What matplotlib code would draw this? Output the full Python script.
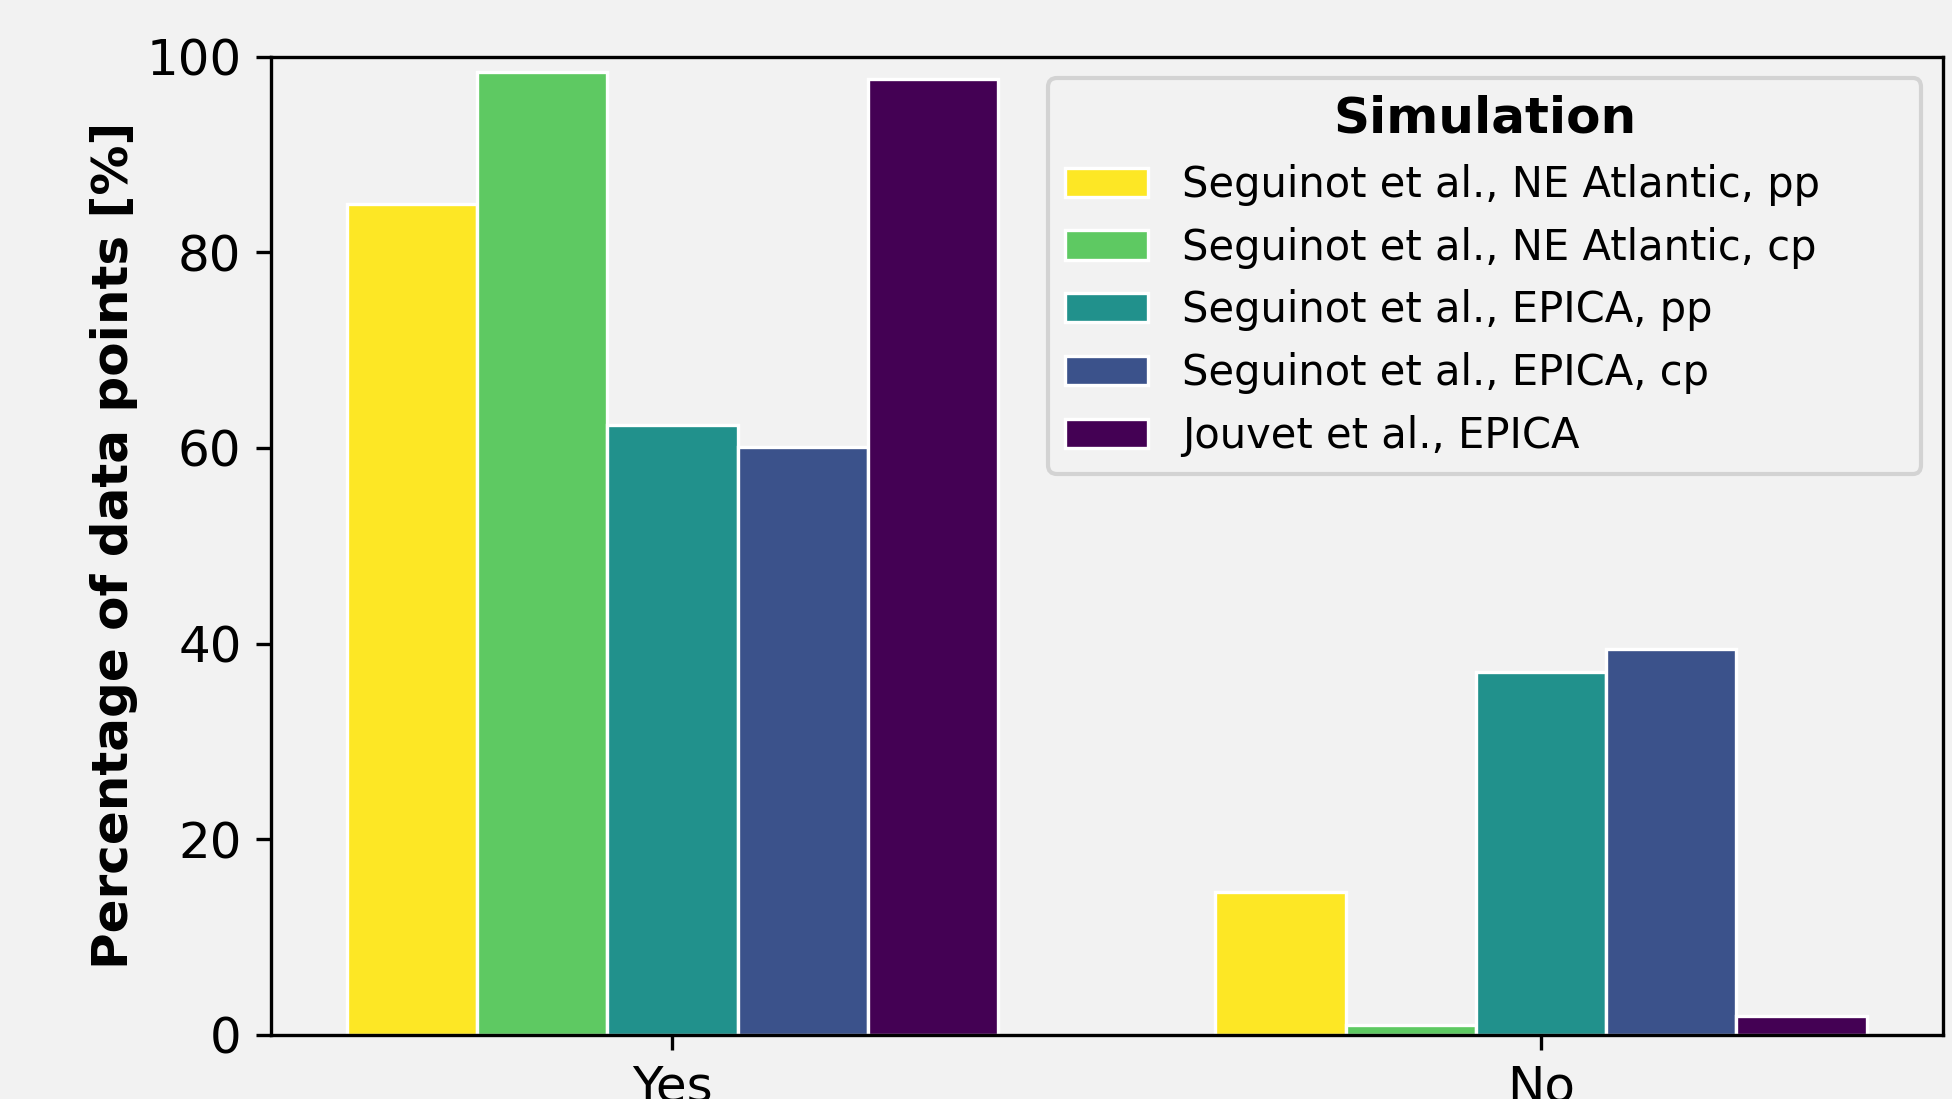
import matplotlib
matplotlib.use('Agg')
import matplotlib.pyplot as plt
import numpy as np

# --- DATA ---
categories = ['Yes', 'No']
simulations = [
    'Seguinot et al., NE Atlantic, pp',
    'Seguinot et al., NE Atlantic, cp',
    'Seguinot et al., EPICA, pp',
    'Seguinot et al., EPICA, cp',
    'Jouvet et al., EPICA',
]
seg_ne_pp = [84.9, 14.6]
seg_ne_cp = [98.4, 1.0]
seg_epica_pp = [62.3, 37.1]
seg_epica_cp = [60.1, 39.4]
jouvet_epica = [97.7, 1.9]

values = [seg_ne_pp, seg_ne_cp, seg_epica_pp, seg_epica_cp, jouvet_epica]
colors = ['#fde725', '#5ec962', '#21918c', '#3b528b', '#440154']

bg = '#f2f2f2'
plt.rcParams['font.family'] = 'DejaVu Sans'
plt.rcParams['font.size'] = 12

fig = plt.figure(figsize=(1952 / 300, 1099 / 300), dpi=300, facecolor=bg)
ax = fig.add_axes([0.1387, 0.0585, 0.9952 - 0.1387, 0.9484 - 0.0585])
ax.set_facecolor(bg)

x = np.arange(len(categories))
width = 0.15
for i, (vals, label, col) in enumerate(zip(values, simulations, colors)):
    ax.bar(x + (i - 2) * width, vals, width, color=col, label=label,
           edgecolor='white', linewidth=0.8)

ax.set_xticks(x)
ax.set_xticklabels(categories)
ax.set_ylim(0, 100)
ax.set_yticks([0, 20, 40, 60, 80, 100])
ax.set_ylabel('Percentage of data points [%]', fontweight='bold', labelpad=2)

# legend box stretched to the width seen in the original
leg = ax.legend(title='Simulation', loc='upper left', fontsize=10,
                bbox_to_anchor=(0.4651, 0.0, 0.5219, 0.9779), mode='expand',
                borderaxespad=0, facecolor=bg,
                title_fontproperties={'weight': 'bold', 'size': 12})

fig.savefig('out.png', dpi=300, facecolor=bg)
